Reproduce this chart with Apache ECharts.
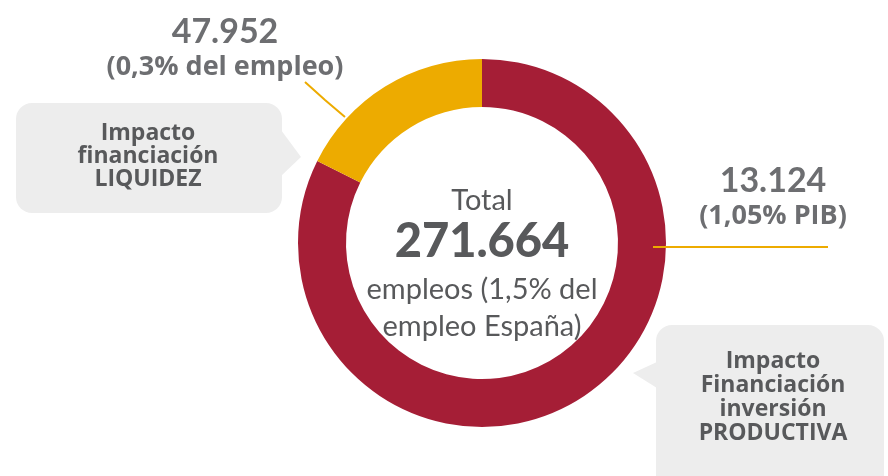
<!DOCTYPE html>
<html>
<head>
<meta charset="utf-8">
<script src="https://cdn.jsdelivr.net/npm/echarts@6/dist/echarts.min.js"></script>
<style>
  html, body { margin: 0; padding: 0; background: #fff; }
  #chart { width: 888px; height: 476px; }
</style>
</head>
<body>
<div id="chart"></div>
<script>
'use strict';

/* ── Data ── */
const sliceNames  = ['Impacto Financiación inversión PRODUCTIVA', 'Impacto financiación LIQUIDEZ'];
const sliceValues = [223712, 47952];
const sliceMain   = ['13.124', '47.952'];
const sliceSub    = ['(1,05% PIB)', '(0,3% del empleo)'];
const centerLines = ['Total', 'empleos (1,5% del', 'empleo España)'];
const calloutLeft  = ['Impacto', 'financiación', 'LIQUIDEZ'];
const calloutRight = ['Impacto', 'Financiación', 'inversión', 'PRODUCTIVA'];

/* ── Style ── */
const COLORS = ['#A51E36', '#EDAB00'];
const FONT = "Lato, 'Open Sans', sans-serif";
const FONT_WIDE = "'Open Sans', Lato, sans-serif";
const DARK = '#58595B';
const LABEL_GREY = '#6D6E71';
const BOX = '#EDEDED';
const LEADER = '#EDAB00';
const CX = 482, CY = 243;

function fmtThousands(n) {
  return String(n).replace(/\B(?=(\d{3})+(?!\d))/g, '.');
}
const total = sliceValues.reduce((a, b) => a + b, 0);

// where each label sits and how its leader line runs
const labelPos = [
  { x: 773, y: 197, line: [[653, 247], [740, 247], [828, 247]] },
  { x: 225, y: 48,  line: [[345, 117], [325, 100], [305, 82]] }
];

const chart = echarts.init(document.getElementById('chart'), null, { renderer: 'canvas' });

function callout(lines, cx, cy, lh) {
  const top = cy - (lines.length - 1) * lh / 2;
  return lines.map((t, i) => ({
    type: 'text', z: 10,
    style: {
      text: t, x: cx, y: top + i * lh,
      align: 'center', verticalAlign: 'middle',
      font: 'bold 23px ' + FONT_WIDE, fill: DARK
    }
  }));
}

chart.setOption({
  backgroundColor: '#fff',
  animation: false,
  series: [{
    type: 'pie',
    center: [CX, CY],
    radius: [136, 184],
    startAngle: 90,
    clockwise: true,
    avoidLabelOverlap: false,
    silent: true,
    data: sliceValues.map((v, i) => ({
      name: sliceNames[i],
      value: v,
      itemStyle: { color: COLORS[i] }
    })),
    label: {
      show: true,
      formatter: p => `{v|${sliceMain[p.dataIndex]}}\n{s|${sliceSub[p.dataIndex]}}`,
      rich: {
        v: { fontFamily: FONT, fontWeight: 'bold', fontSize: 34, color: LABEL_GREY, lineHeight: 38, align: 'center' },
        s: { fontFamily: FONT_WIDE, fontWeight: 'bold', fontSize: 27, color: LABEL_GREY, lineHeight: 32, align: 'center' }
      }
    },
    labelLine: { show: false },
    labelLayout: p => ({
      x: labelPos[p.dataIndex].x,
      y: labelPos[p.dataIndex].y,
      align: 'center',
      verticalAlign: 'middle'
    })
  }],
  graphic: [
    // leader lines (drawn above the ring)
    ...labelPos.map(lp => ({
      type: 'polyline', z: 20,
      shape: { points: lp.line },
      style: { stroke: LEADER, lineWidth: 2, fill: null }
    })),
    // left callout box
    { type: 'rect', shape: { x: 16, y: 103, width: 266, height: 110, r: 16 }, style: { fill: BOX } },
    { type: 'polygon', shape: { points: [[281, 130], [301, 157], [281, 176]] }, style: { fill: BOX } },
    // right callout box
    { type: 'rect', shape: { x: 656, y: 325, width: 228, height: 170, r: 16 }, style: { fill: BOX } },
    { type: 'polygon', shape: { points: [[657, 362], [633, 373], [657, 388]] }, style: { fill: BOX } },
    ...callout(calloutLeft, 148, 156, 23),
    ...callout(calloutRight, 773, 397, 24),
    // centre text
    { type: 'text', style: { text: centerLines[0], x: CX, y: 201, align: 'center', verticalAlign: 'middle', font: '29px ' + FONT, fill: DARK } },
    { type: 'text', style: { text: fmtThousands(total), x: CX, y: 242, align: 'center', verticalAlign: 'middle', font: '900 47px ' + FONT, fill: DARK } },
    { type: 'text', style: { text: centerLines[1], x: CX, y: 290, align: 'center', verticalAlign: 'middle', font: '29px ' + FONT, fill: DARK } },
    { type: 'text', style: { text: centerLines[2], x: CX, y: 327, align: 'center', verticalAlign: 'middle', font: '29px ' + FONT, fill: DARK } }
  ]
});

window.addEventListener('resize', () => chart.resize());
</script>
</body>
</html>
